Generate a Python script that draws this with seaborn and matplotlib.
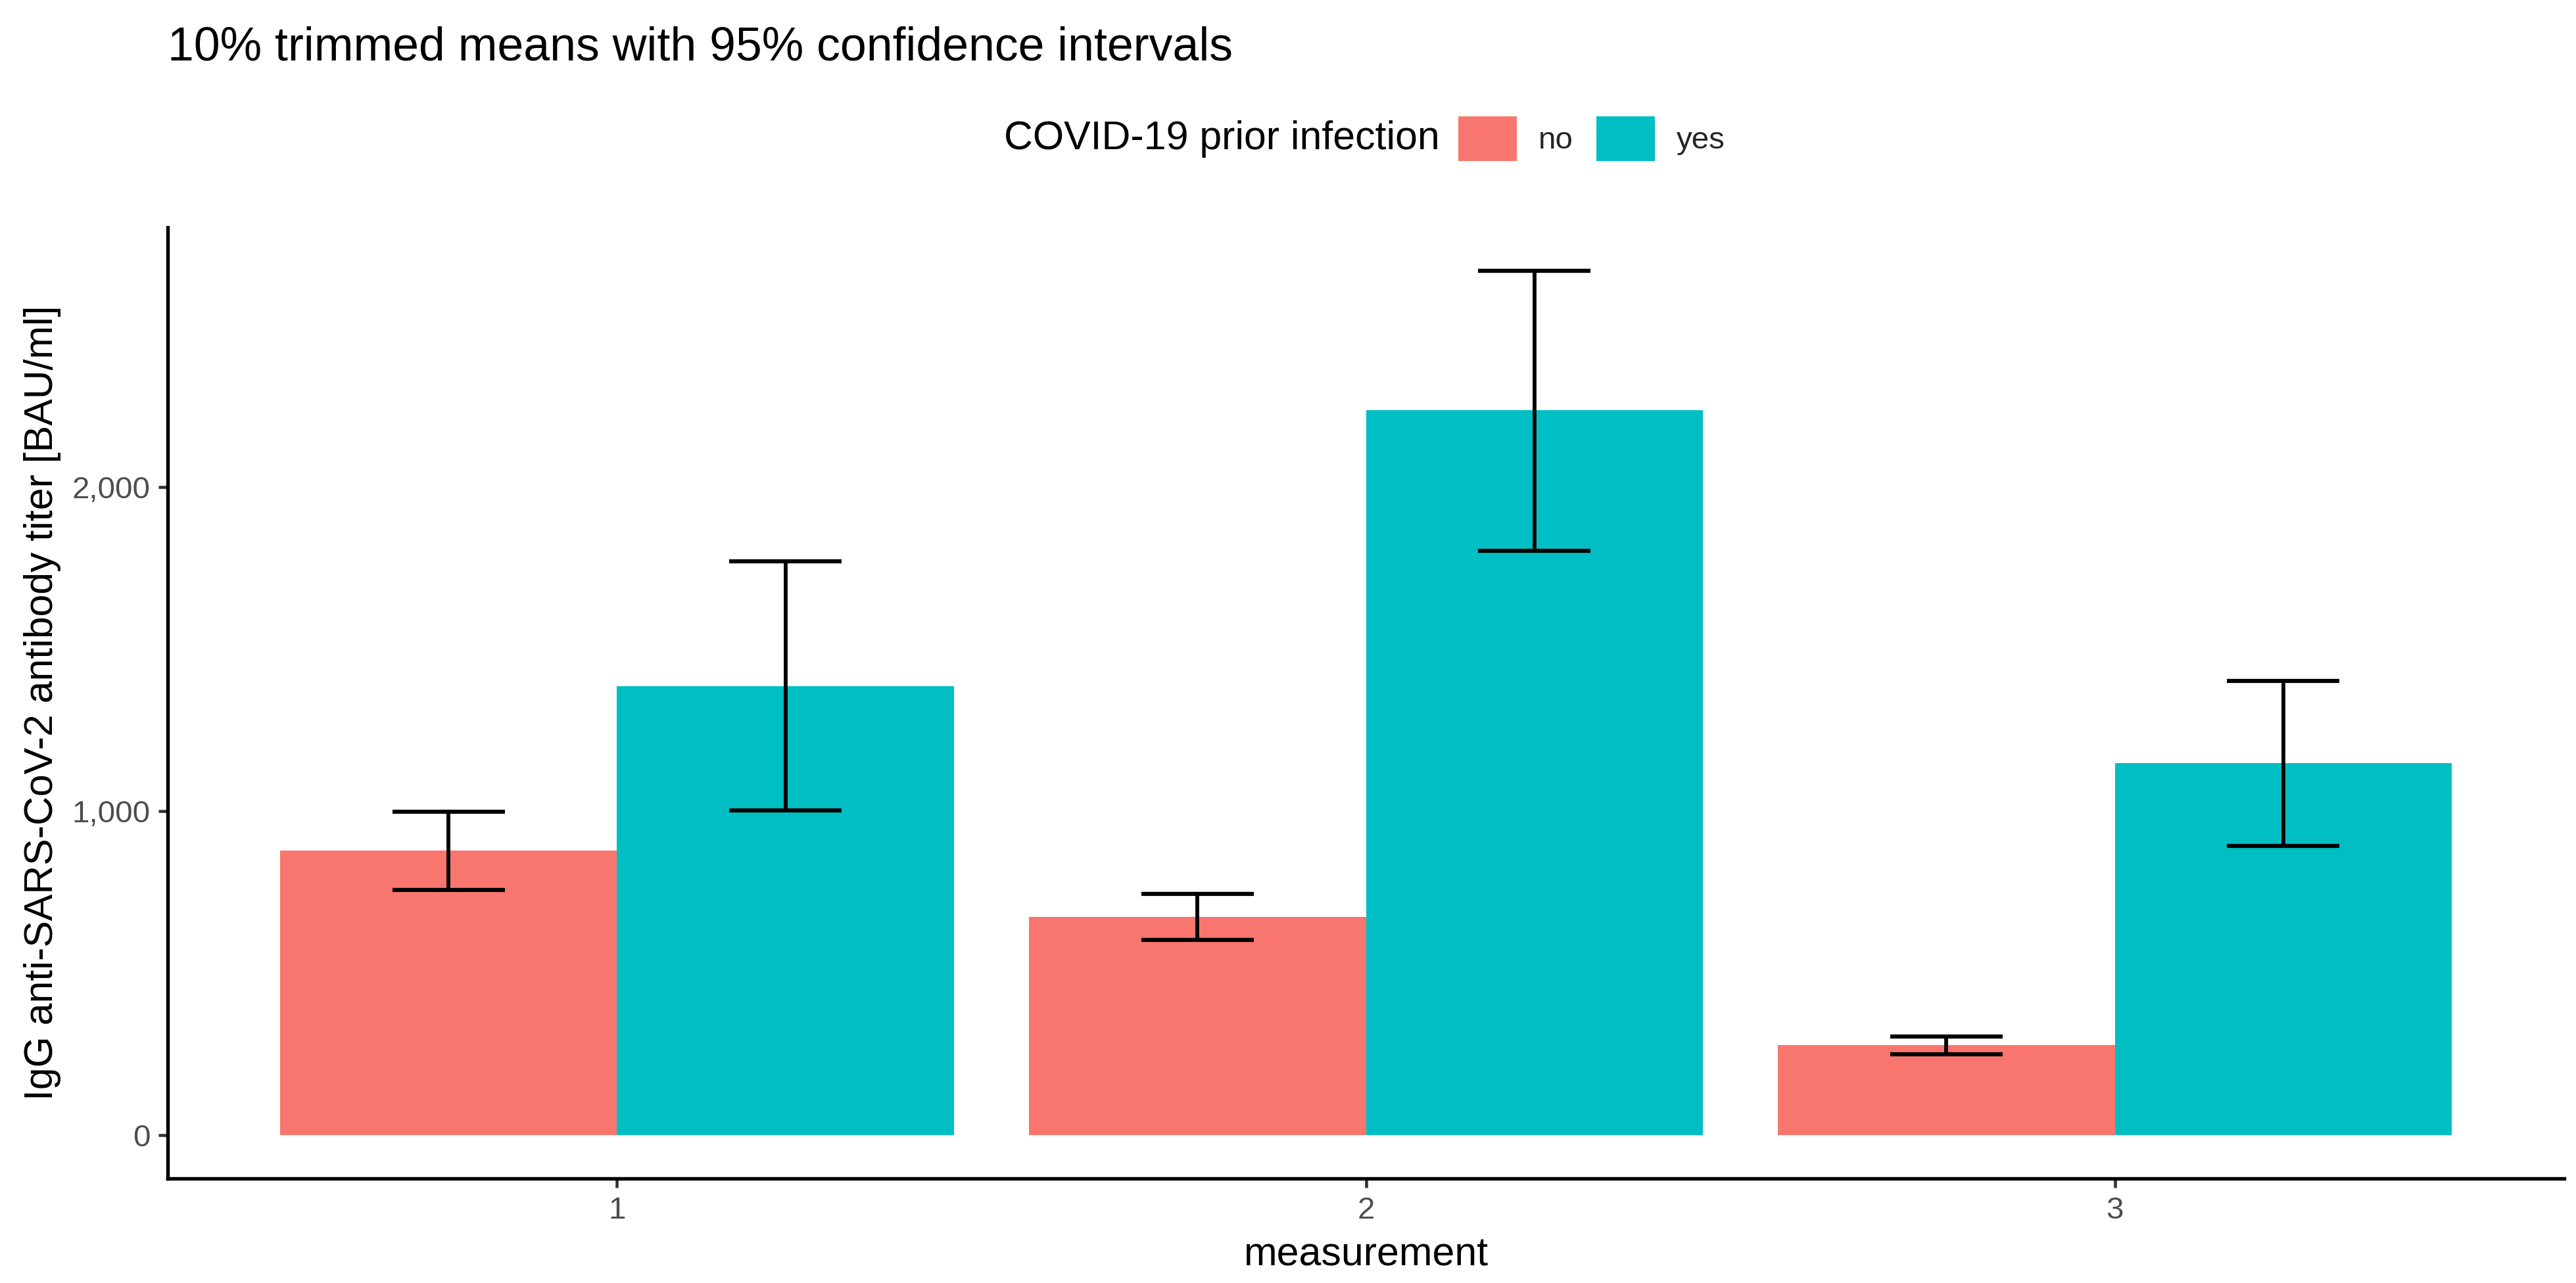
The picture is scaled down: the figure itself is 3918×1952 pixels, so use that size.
import matplotlib
matplotlib.use("Agg")
import matplotlib.pyplot as plt
from matplotlib.patches import Patch
from matplotlib.ticker import FuncFormatter
import seaborn as sns
import pandas as pd

# ---- data ----
measurements = ["1", "2", "3"]
groups = ["no", "yes"]
mean_no = [878, 674, 278]
lo_no = [757, 603, 250]
hi_no = [998, 745, 305]
mean_yes = [1385, 2237, 1147]
lo_yes = [1003, 1803, 893]
hi_yes = [1771, 2667, 1402]
yticks = [0, 1000, 2000]

colors = {"no": "#F8766D", "yes": "#00BFC4"}

df = pd.DataFrame({
    "measurement": measurements * 2,
    "infection": ["no"] * 3 + ["yes"] * 3,
    "mean": mean_no + mean_yes,
    "lo": lo_no + lo_yes,
    "hi": hi_no + hi_yes,
})

sns.set_theme(style="white")
plt.rcParams["font.family"] = ["Liberation Sans", "DejaVu Sans"]

W, H = 3918, 1952
DPI = 300
fig = plt.figure(figsize=(W / DPI, H / DPI), dpi=DPI)
ax = fig.add_axes([255 / W, 1 - 1793 / H, (3900 - 255) / W, (1793 - 346) / H])

sns.barplot(data=df, x="measurement", y="mean", hue="infection",
            order=measurements, hue_order=groups, palette=colors,
            width=0.9, errorbar=None, saturation=1, linewidth=0,
            legend=False, ax=ax)

# error bars from bar positions
cap_frac = 1 / 3
for gi, g in enumerate(groups):
    cont = ax.containers[gi]
    sub = df[df["infection"] == g].set_index("measurement").loc[measurements]
    for patch, lo, hi in zip(cont.patches, sub["lo"], sub["hi"]):
        xc = patch.get_x() + patch.get_width() / 2
        hw = patch.get_width() * cap_frac / 2
        ax.vlines(xc, lo, hi, color="black", linewidth=1.4, zorder=3)
        ax.hlines([lo, hi], xc - hw, xc + hw, color="black", linewidth=1.5, zorder=3)

ymax = max(hi_no + hi_yes)
ax.set_ylim(-0.05 * ymax, ymax * 1.05)
ax.set_xlim(-0.6, len(measurements) - 1 + 0.6)
ax.set_yticks(yticks)
ax.yaxis.set_major_formatter(FuncFormatter(lambda v, p: f"{v:,.0f}"))

for side in ["top", "right"]:
    ax.spines[side].set_visible(False)
for side in ["left", "bottom"]:
    ax.spines[side].set_color("black")
    ax.spines[side].set_linewidth(1.3)

ax.tick_params(axis="both", which="major", length=3.4, width=1.1, color="#333333",
               labelcolor="#4D4D4D", labelsize=11.4, pad=3.0,
               left=True, bottom=True)

ax.set_xlabel("measurement", fontsize=14.6, color="black")
ax.set_ylabel("IgG anti-SARS-CoV-2 antibody titer [BAU/ml]", fontsize=14.6, color="black")
ax.xaxis.set_label_coords(0.5, (1793 - 1925) / (1793 - 346))
ax.xaxis.label.set_va("baseline")
ax.yaxis.set_label_coords((65 - 255) / (3900 - 255), 0.5)
ax.yaxis.label.set_va("center")

# title
fig.text(255 / W, 1 - 92 / H, "10% trimmed means with 95% confidence intervals",
         fontsize=17.2, color="black", ha="left", va="baseline")

# legend
ly = 1 - 211 / H
fig.text(2190 / W, ly, "COVID-19 prior infection", fontsize=14.6, color="black",
         ha="right", va="center")
handles = [Patch(facecolor=colors[g], edgecolor="none") for g in groups]
fs = 11.4
fpx = fs * DPI / 72
fig.legend(handles, groups, loc="center left", bbox_to_anchor=(2218 / W, ly),
           ncol=2, frameon=False, borderpad=0, borderaxespad=0,
           handlelength=89 / fpx, handleheight=87 / fpx,
           handletextpad=33 / fpx, columnspacing=35 / fpx, fontsize=fs)

fig.savefig("out.png", dpi=DPI, facecolor="white")
